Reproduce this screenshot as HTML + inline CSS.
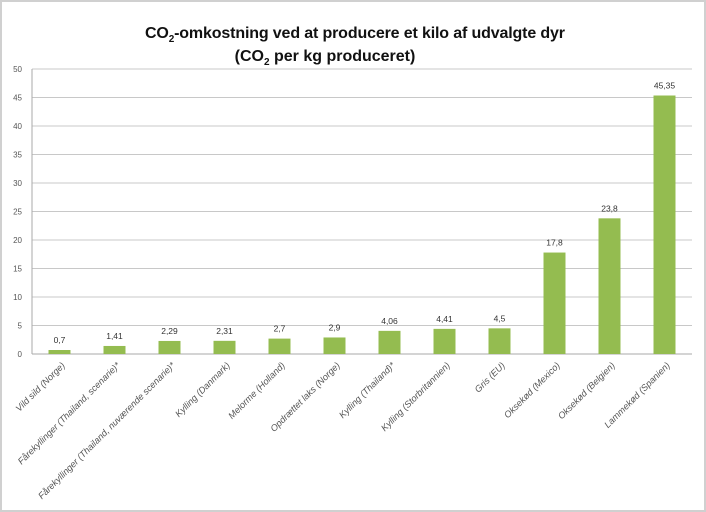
<!DOCTYPE html>
<html><head><meta charset="utf-8"><style>
body{margin:0;background:#fff;}
svg{display:block;font-family:"Liberation Sans",sans-serif;}
</style></head><body>
<svg width="706" height="512">
<rect x="1" y="1" width="704" height="510" fill="#fff" stroke="#d0d0d0" stroke-width="2"/>
<text x="355" y="38" text-anchor="middle" font-size="16" font-weight="bold" fill="#111" textLength="420">CO<tspan font-size="10" dy="4">2</tspan><tspan dy="-4">-omkostning ved at producere et kilo af udvalgte dyr</tspan></text>
<text x="325" y="61" text-anchor="middle" font-size="16" font-weight="bold" fill="#111">(CO<tspan font-size="10" dy="4">2</tspan><tspan dy="-4"> per kg produceret)</tspan></text>
<g id="grid"></g><g id="bars"></g>
</svg>
<script>
const categories=["Vild sild (Norge)","Fårekyllinger (Thailand, scenarie)*","Fårekyllinger (Thailand, nuværende scenarie)*","Kylling (Danmark)","Melorme (Holland)","Opdrættet laks (Norge)","Kylling (Thailand)*","Kylling (Storbritannien)","Gris (EU)","Oksekød (Mexico)","Oksekød (Belgien)","Lammekød (Spanien)"];
const values=[0.7,1.41,2.29,2.31,2.7,2.9,4.06,4.41,4.5,17.8,23.8,45.35];
const valueLabels=["0,7","1,41","2,29","2,31","2,7","2,9","4,06","4,41","4,5","17,8","23,8","45,35"];
const yTicks=[0,5,10,15,20,25,30,35,40,45,50];
const NS="http://www.w3.org/2000/svg";
const x0=32,x1=692,yTop=69,yBot=354,yMax=50;
const y=v=>yBot-(v/yMax)*(yBot-yTop);
const band=(x1-x0)/categories.length;
const xc=i=>x0+band*(i+0.5);
function mk(t,a,p){const e=document.createElementNS(NS,t);for(const k in a)e.setAttribute(k,a[k]);p.appendChild(e);return e;}
const g=document.getElementById('grid'),b=document.getElementById('bars');
yTicks.forEach(t=>{
 const l=mk('line',{x1:x0,x2:x1,y1:y(t),y2:y(t),stroke:t===0?'#aaa':'#c8c8c8','stroke-width':1},g);
 
 
 const tx=mk('text',{x:x0-10,y:y(t)+3,'text-anchor':'end','font-size':8,fill:'#555'},g);
 tx.textContent=t;
 
 
});
mk('line',{x1:x0,x2:x0,y1:yTop,y2:yBot,stroke:'#aaa'},g);
categories.forEach((c,i)=>{
 const bw=22,cx=xc(i);
 const r=mk('rect',{x:cx-bw/2,y:y(values[i]),width:bw,height:yBot-y(values[i]),fill:'#94bc50'},b);
 
 
 const vl=mk('text',{x:cx,y:y(values[i])-7,'text-anchor':'middle','font-size':8.5,fill:'#333'},b);
 vl.textContent=valueLabels[i];
 
 
 const cl=mk('text',{x:cx+6,y:yBot+12,'text-anchor':'end','font-size':9.2,'font-style':'italic',fill:'#555',transform:`rotate(-45 ${cx+6} ${yBot+12})`},b);
 cl.textContent=c;
 
 
});
</script>
</body></html>
